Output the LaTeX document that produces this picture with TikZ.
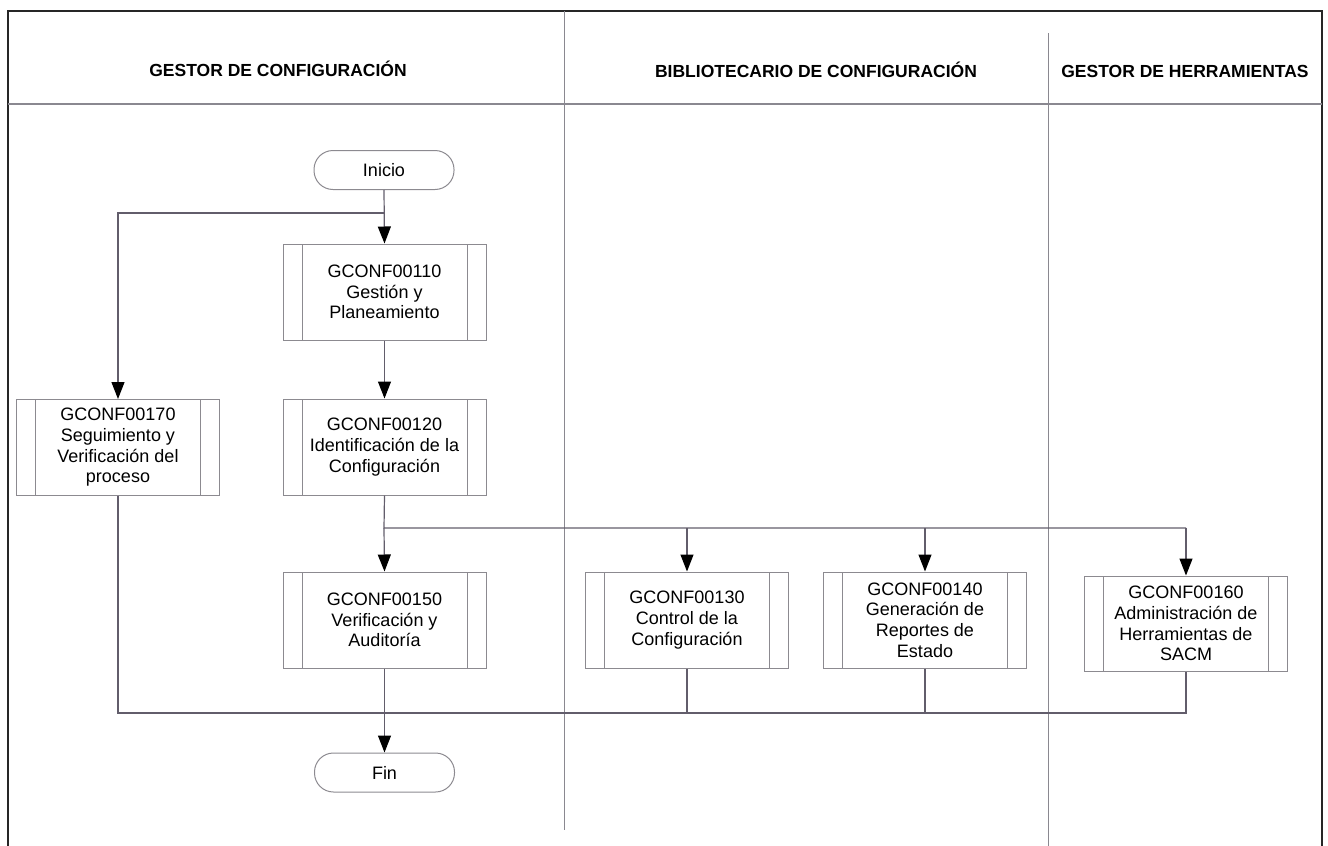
\documentclass[tikz,border=0pt]{standalone}
\usepackage{fontspec}
\setmainfont{Liberation Sans}
\usetikzlibrary{arrows.meta}
\definecolor{boxline}{HTML}{8C8A90}
\definecolor{wirecol}{HTML}{625D6B}
\definecolor{framecol}{HTML}{262626}
\definecolor{lanecol}{HTML}{8A8890}
\begin{document}
\begin{tikzpicture}[x=1pt,y=-1pt,
  proc/.style={draw=boxline, line width=1pt, minimum width=203pt, minimum height=96pt,
    inner sep=0pt, align=center, font=\fontsize{18}{20.7}\selectfont,
    path picture={
      \draw[boxline, line width=1pt]
        ([xshift=19pt]path picture bounding box.north west) -- ([xshift=19pt]path picture bounding box.south west)
        ([xshift=-19pt]path picture bounding box.north east) -- ([xshift=-19pt]path picture bounding box.south east);
    }},
  term/.style={draw=boxline, line width=1pt, rounded corners=19pt, minimum width=140pt,
    minimum height=39pt, inner sep=0pt, font=\fontsize{18}{20.7}\selectfont},
  wire/.style={draw=wirecol, line width=1.2pt},
  flow/.style={wire, -{Triangle[length=17pt,width=13pt,color=black]}},
  lanehead/.style={font=\fontsize{17.5}{21}\selectfont\bfseries}
]
\useasboundingbox (0,0) rectangle (1328,846);

% pool frame and swimlanes
\draw[framecol, line width=1.5pt] (8,11) -- (1322,11);
\draw[framecol, line width=2.5pt] (8,846) -- (8,10);
\draw[framecol, line width=2pt] (1322,10) -- (1322,846);
\draw[lanecol, line width=1.2pt] (8,104) -- (1322,104);
\draw[lanecol, line width=1pt] (564,11) -- (564,830);
\draw[lanecol, line width=1pt] (1048,33) -- (1048,846);

% lane titles
\node[lanehead] (h1) at (278,69) {GESTOR DE CONFIGURACIÓN};
\node[lanehead] (h2) at (816,70) {BIBLIOTECARIO DE CONFIGURACIÓN};
\node[lanehead] (h3) at (1185,71) {GESTOR DE HERRAMIENTAS};

% terminators and subprocesses
\node[term] (start) at (384,170) {Inicio};
\node[proc] (p110) at (384.5,292) {GCONF00110\\Gestión y\\Planeamiento};
\node[proc] (p120) at (384.5,447) {GCONF00120\\Identificación de la\\Configuración};
\node[proc] (p170) at (118,447.5) {GCONF00170\\Seguimiento y\\Verificación del\\proceso};
\node[proc] (p150) at (384.5,620) {GCONF00150\\Verificación y\\Auditoría};
\node[proc] (p130) at (687,620) {GCONF00130\\Control de la\\Configuración};
\node[proc] (p140) at (925,620) {GCONF00140\\Generación de\\Reportes de\\Estado};
\node[proc, minimum height=95pt] (p160) at (1186,623.5) {GCONF00160\\Administración de\\Herramientas de\\SACM};
\node[term] (fin) at (384.5,772.5) {Fin};

% flow from start
\coordinate (split) at (384,213);
\draw[flow] (start.south) -- (p110.north);
\draw[flow] (split) -| (p170.north);
\draw[flow] (p110.south) -- (p120.north);

% fan-out after identification
\coordinate (bus) at (384,528);
\draw[wire] (p120.south) -- (bus) -- (p160.north |- bus);
\draw[flow] (bus) -- (p150.north);
\draw[flow] (p130.north |- bus) -- (p130.north);
\draw[flow] (p140.north |- bus) -- (p140.north);
\draw[flow] (p160.north |- bus) -- (p160.north);

% return line and end
\coordinate (ret) at (118,713);
\draw[wire] (p170.south) |- (p160.south |- ret) -- (p160.south);
\draw[wire] (p130.south) -- (p130.south |- ret);
\draw[wire] (p140.south) -- (p140.south |- ret);
\draw[flow] (p150.south) -- (fin.north);
\end{tikzpicture}
\end{document}
